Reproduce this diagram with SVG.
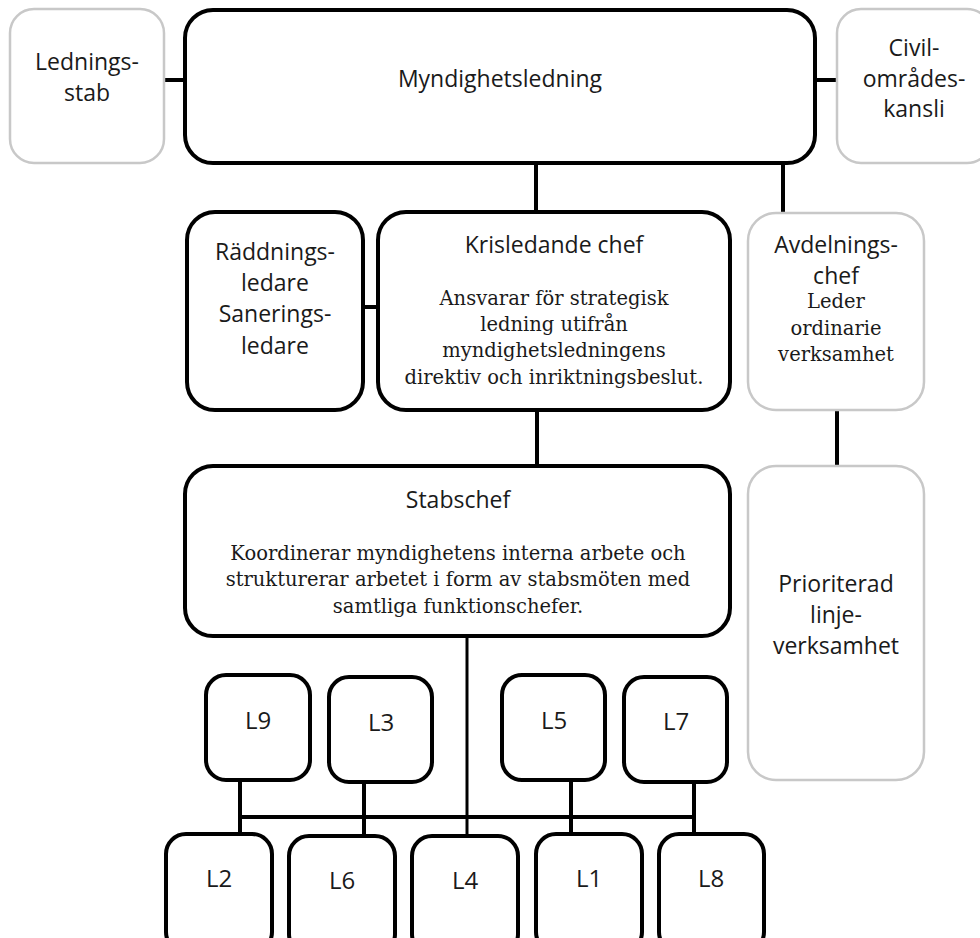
<svg xmlns="http://www.w3.org/2000/svg" width="980" height="938" viewBox="0 0 980 938">
<style>
.box{fill:#fff;stroke:#000;stroke-width:4}
.gbox{fill:#fff;stroke:#c8c8c8;stroke-width:2.5}
.s{font-family:"Open Sans","DejaVu Sans",sans-serif;font-size:23px;text-anchor:middle;fill:#1a1a1a}
.l{font-family:"Open Sans","DejaVu Sans",sans-serif;font-size:24px;text-anchor:middle;fill:#1a1a1a}
.r{font-family:"DejaVu Serif","Liberation Serif",serif;font-size:19.5px;text-anchor:middle;fill:#1a1a1a}
.c{fill:none;stroke:#000;stroke-width:4}
</style>
<rect width="980" height="938" fill="#fff"/>
<g id="connectors" class="c">
<path d="M164 80H186"/>
<path d="M814 80H838"/>
<path d="M536 162V213"/>
<path d="M783 162V214"/>
<path d="M362 307H379"/>
<path d="M537 409V466"/>
<path d="M837 409V467"/>
<path d="M467 636V835" stroke-width="3"/>
<path d="M240 817H694"/>
<path d="M240 779V835"/>
<path d="M364 781V835"/>
<path d="M571 779V835"/>
<path d="M694 781V835"/>
</g>
<g id="ledningsstab">
<rect class="gbox" x="10" y="9" width="154" height="154" rx="24"/>
<text class="s" x="87" y="70">Lednings-</text>
<text class="s" x="87" y="101">stab</text>
</g>
<g id="myndighetsledning">
<rect class="box" x="185" y="10" width="630" height="153" rx="28"/>
<text class="s" x="500" y="87">Myndighetsledning</text>
</g>
<g id="civilomradeskansli">
<rect class="gbox" x="837" y="9" width="154" height="154" rx="24"/>
<text class="s" x="914" y="56">Civil-</text>
<text class="s" x="914" y="87">områdes-</text>
<text class="s" x="914" y="117">kansli</text>
</g>
<g id="raddningsledare">
<rect class="box" x="187" y="212" width="176" height="198" rx="28"/>
<text class="s" x="275" y="260">Räddnings-</text>
<text class="s" x="275" y="291">ledare</text>
<text class="s" x="275" y="322">Sanerings-</text>
<text class="s" x="275" y="354">ledare</text>
</g>
<g id="krisledande">
<rect class="box" x="378" y="212" width="352" height="198" rx="28"/>
<text class="s" x="554" y="253">Krisledande chef</text>
<text class="r" x="554" y="305">Ansvarar för strategisk</text>
<text class="r" x="554" y="331">ledning utifrån</text>
<text class="r" x="554" y="357">myndighetsledningens</text>
<text class="r" x="554" y="384">direktiv och inriktningsbeslut.</text>
</g>
<g id="avdelningschef">
<rect class="gbox" x="748" y="213" width="176" height="197" rx="28"/>
<text class="s" x="836" y="253">Avdelnings-</text>
<text class="s" x="836" y="284">chef</text>
<text class="r" x="836" y="308">Leder</text>
<text class="r" x="836" y="335">ordinarie</text>
<text class="r" x="836" y="361">verksamhet</text>
</g>
<g id="stabschef">
<rect class="box" x="185" y="466" width="545" height="170" rx="28"/>
<text class="s" x="458" y="508">Stabschef</text>
<text class="r" x="458" y="560">Koordinerar myndighetens interna arbete och</text>
<text class="r" x="458" y="586">strukturerar arbetet i form av stabsmöten med</text>
<text class="r" x="458" y="613">samtliga funktionschefer.</text>
</g>
<g id="prioriterad">
<rect class="gbox" x="748" y="466" width="176" height="314" rx="28"/>
<text class="s" x="836" y="592">Prioriterad</text>
<text class="s" x="836" y="623">linje-</text>
<text class="s" x="836" y="654">verksamhet</text>
</g>
<g id="L9"><rect class="box" x="206" y="675" width="104" height="105" rx="20"/><text class="l" x="258" y="729">L9</text></g>
<g id="L3"><rect class="box" x="329" y="677" width="103" height="105" rx="20"/><text class="l" x="381" y="731">L3</text></g>
<g id="L5"><rect class="box" x="502" y="675" width="103" height="105" rx="20"/><text class="l" x="554" y="729">L5</text></g>
<g id="L7"><rect class="box" x="624" y="677" width="103" height="105" rx="20"/><text class="l" x="676" y="730">L7</text></g>
<g id="L2"><rect class="box" x="166" y="834" width="106" height="118" rx="20"/><text class="l" x="219" y="887">L2</text></g>
<g id="L6"><rect class="box" x="289" y="836" width="106" height="118" rx="20"/><text class="l" x="342" y="889">L6</text></g>
<g id="L4"><rect class="box" x="412" y="836" width="106" height="118" rx="20"/><text class="l" x="465" y="889">L4</text></g>
<g id="L1"><rect class="box" x="536" y="834" width="106" height="118" rx="20"/><text class="l" x="589" y="887">L1</text></g>
<g id="L8"><rect class="box" x="659" y="834" width="105" height="118" rx="20"/><text class="l" x="711" y="887">L8</text></g>
</svg>
